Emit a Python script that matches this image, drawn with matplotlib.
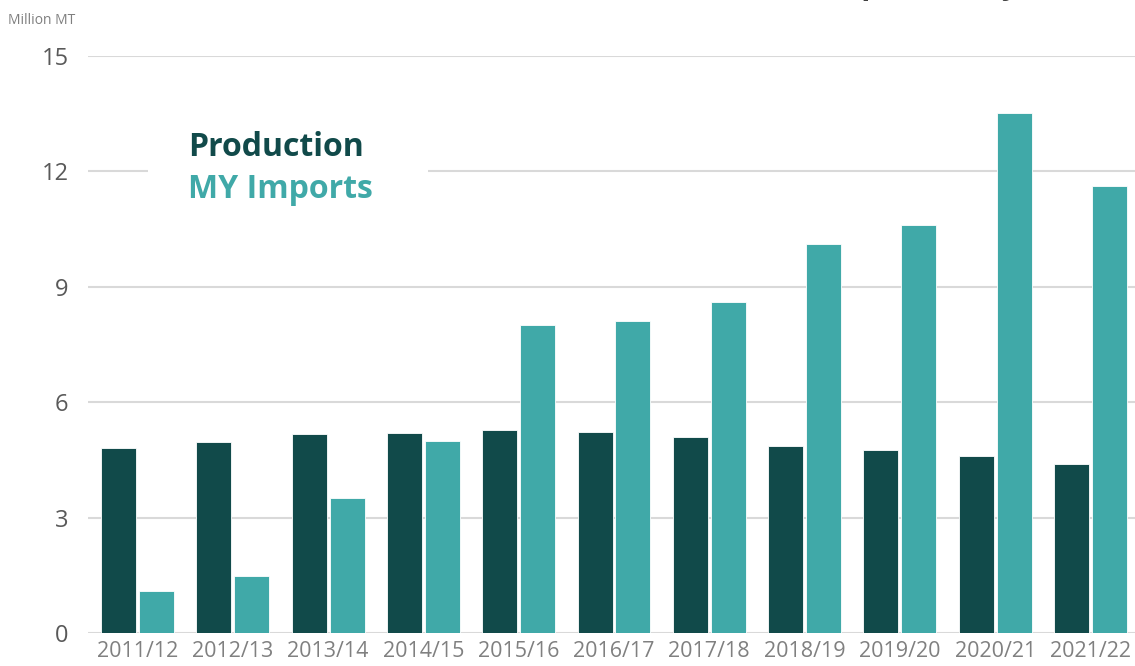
import numpy as np
from matplotlib import pyplot as plt
from matplotlib.patches import Rectangle

# marketing years
years = ["2011/12", "2012/13", "2013/14", "2014/15", "2015/16", "2016/17",
         "2017/18", "2018/19", "2019/20", "2020/21", "2021/22"]

# million MT
production = [4.81, 4.96, 5.17, 5.20, 5.28, 5.22, 5.09, 4.86, 4.76, 4.60, 4.39]
my_imports = [1.09, 1.48, 3.51, 4.99, 8.00, 8.11, 8.60, 10.11, 10.60, 13.52, 11.62]

yticks = [0, 3, 6, 9, 12, 15]

DARK = "#114a4a"
TEAL = "#40a9a8"
GRID = "#d9d9d9"
FONT = "Open Sans"


def main():
    plt.rcParams["font.family"] = [FONT, "DejaVu Sans"]

    fig = plt.figure(figsize=(11.35, 6.66), dpi=100)
    ax = fig.add_axes([88 / 1135, 1 - 633 / 666, 1 - 88 / 1135, (633 - 56) / 666])

    x = np.arange(len(years))
    w = 0.367
    off = 0.199

    ax.bar(x - off, production, width=w, color=DARK, edgecolor="white",
           linewidth=0.6, zorder=3)
    ax.bar(x + off, my_imports, width=w, color=TEAL, edgecolor="white",
           linewidth=0.6, zorder=3)

    ax.set_ylim(0, 15)
    ax.set_xlim(-0.519, 10.467)
    ax.set_yticks(yticks)
    ax.set_yticklabels([str(v) for v in yticks])
    ax.set_xticks(x)
    ax.set_xticklabels(years)

    ax.grid(axis="y", color=GRID, linewidth=1.5, zorder=0)
    ax.set_axisbelow(True)
    for s in ax.spines.values():
        s.set_visible(False)
    ax.tick_params(axis="both", length=0)
    ax.tick_params(axis="y", labelsize=17, labelcolor="#595959", pad=14)
    ax.tick_params(axis="x", labelsize=15.5, labelcolor="#808080", pad=6)

    # unit label
    fig.text(8 / 1135, 1 - 20 / 666, "Million MT", fontsize=10, color="#7f7f7f",
             va="center", ha="left")

    # legend: coloured text on a white block that hides the 12 gridline
    ax.add_patch(Rectangle((0.11, 10.9), 2.94, 2.5, facecolor="white",
                           edgecolor="none", zorder=2))
    ax.text(0.53, 12.61, "Production", fontsize=23, fontweight="bold",
            color=DARK, va="center", ha="left", zorder=5)
    ax.text(0.53, 11.52, "MY Imports", fontsize=23, fontweight="bold",
            color=TEAL, va="center", ha="left", zorder=5)

    # title is cut off at the top edge, only descender tips show
    fig.text(0.745, 1 + 6 / 666, "Production and Imports (July/June)",
             fontsize=22, fontweight="bold", color="#404040",
             ha="center", va="baseline")

    fig.savefig("out.png", dpi=100)
    plt.close(fig)


if __name__ == "__main__":
    main()
